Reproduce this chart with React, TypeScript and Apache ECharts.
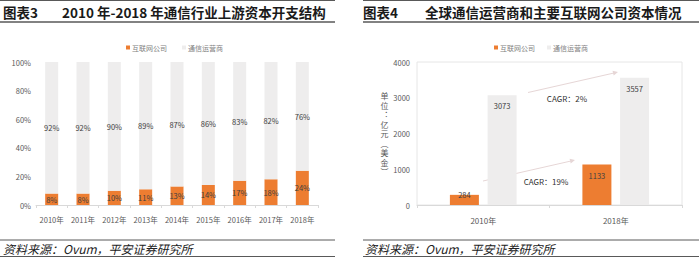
import React, { useEffect, useRef } from "react";
import * as echarts from "echarts";

const years = ["2010年", "2011年", "2012年", "2013年", "2014年", "2015年", "2016年", "2017年", "2018年"];
const internetShare = [8, 8, 10, 11, 13, 14, 17, 18, 24];
const operatorShare = [92, 92, 90, 89, 87, 86, 83, 82, 76];

const years2 = ["2010年", "2018年"];
const internetCapex = [284, 1133];
const operatorCapex = [3073, 3557];

const seriesNames = ["互联网公司", "通信运营商"];
const ORANGE = "#ED7D31";
const GRAY = "#EEEDED";
const FONT = "'Noto Sans CJK SC', 'Noto Sans', sans-serif";

export default function App() {
  const ref = useRef<HTMLDivElement>(null);
  useEffect(() => {
    if (!ref.current) return;
    const chart = echarts.init(ref.current, null, { renderer: "svg" });
    const lineColor = "#595959";
    const titleStyle = { fontSize: 13.5, fontWeight: "bold", fill: "#1a1a1a", fontFamily: FONT, verticalAlign: "middle" };
    const srcStyle = { fontSize: 12, fontStyle: "italic", fill: "#222", fontFamily: FONT, verticalAlign: "middle" };
    const arrowColor = "#e6d6d6";
    const axisLabel = { fontSize: 7.5, color: "#595959", fontFamily: FONT };
    const dataLabel = { show: true, position: "inside", fontSize: 7.5, color: "#404040", fontFamily: FONT };
    const option: any = {
      animation: false,
      textStyle: { fontFamily: FONT },
      legend: [
        {
          left: 121, top: 39, itemWidth: 4, itemHeight: 4, itemGap: 15, icon: "rect",
          data: seriesNames, textStyle: { fontSize: 7, color: "#7f7f7f", padding: [0, 0, 0, -3] },
        },
        {
          left: 489, top: 39, itemWidth: 4, itemHeight: 4, itemGap: 12, icon: "rect",
          data: seriesNames, textStyle: { fontSize: 7, color: "#7f7f7f", padding: [0, 0, 0, -3] },
        },
      ],
      grid: [
        { left: 36, right: 381, top: 62, bottom: 54 },
        { left: 417, right: 17, top: 62, bottom: 54, show: true, borderColor: "#e6e6e6", borderWidth: 1 },
      ],
      xAxis: [
        {
          type: "category", gridIndex: 0, data: years,
          axisLine: { lineStyle: { color: "#d9d9d9" } },
          axisTick: { show: true, length: 3, lineStyle: { color: "#d9d9d9" } },
          axisLabel: { ...axisLabel, margin: 11, interval: 0 },
        },
        {
          type: "category", gridIndex: 1, data: years2,
          axisLine: { lineStyle: { color: "#d9d9d9" } },
          axisTick: { show: true, length: 3, lineStyle: { color: "#d9d9d9" } },
          axisLabel: { ...axisLabel, fontSize: 8, margin: 11, interval: 0 },
        },
      ],
      yAxis: [
        {
          type: "value", gridIndex: 0, min: 0, max: 100, interval: 20,
          axisLine: { show: false }, axisTick: { show: false },
          splitLine: { show: false },
          axisLabel: { ...axisLabel, formatter: "{value}%", margin: 5 },
        },
        {
          type: "value", gridIndex: 1, min: 0, max: 4000, interval: 1000,
          axisLine: { show: false }, axisTick: { show: false },
          splitLine: { show: false },
          axisLabel: { ...axisLabel, margin: 7, formatter: (v: number) => String(v) },
          name: "单\n位\n︓\n亿\n元\n︵\n美\n金\n︶",
          nameLocation: "middle", nameRotate: 0, nameGap: 28,
          nameTextStyle: { fontSize: 8, lineHeight: 9.5, color: "#595959", align: "center", verticalAlign: "middle" },
        },
      ],
      series: [
        {
          name: seriesNames[0], type: "bar", stack: "s", xAxisIndex: 0, yAxisIndex: 0,
          data: internetShare, barWidth: 13, itemStyle: { color: ORANGE },
          label: { ...dataLabel, formatter: "{c}%" },
        },
        {
          name: seriesNames[1], type: "bar", stack: "s", xAxisIndex: 0, yAxisIndex: 0,
          data: operatorShare, barWidth: 13, itemStyle: { color: GRAY },
          label: { ...dataLabel, formatter: "{c}%" },
        },
        {
          name: seriesNames[0], type: "bar", xAxisIndex: 1, yAxisIndex: 1,
          data: internetCapex.map((v, i) => ({
            value: v,
            label: i === 0 ? { position: "insideTop", distance: 0, offset: [0, -4] } : {},
          })),
          barWidth: 29, barGap: "30%", itemStyle: { color: ORANGE },
          label: { ...dataLabel, position: "insideTop", distance: 7 },
        },
        {
          name: seriesNames[1], type: "bar", xAxisIndex: 1, yAxisIndex: 1,
          data: operatorCapex, barWidth: 29, barGap: "30%", itemStyle: { color: GRAY },
          label: { ...dataLabel, position: "insideTop", distance: 7 },
        },
      ],
      graphic: [
        { type: "line", shape: { x1: 0, y1: 0.5, x2: 335, y2: 0.5 }, style: { stroke: lineColor, lineWidth: 1 } },
        { type: "line", shape: { x1: 0, y1: 22, x2: 335, y2: 22 }, style: { stroke: lineColor, lineWidth: 1.5 } },
        { type: "line", shape: { x1: 0, y1: 240, x2: 335, y2: 240 }, style: { stroke: lineColor, lineWidth: 1 } },
        { type: "line", shape: { x1: 0, y1: 256.5, x2: 335, y2: 256.5 }, style: { stroke: lineColor, lineWidth: 1 } },
        { type: "line", shape: { x1: 363, y1: 0.5, x2: 699, y2: 0.5 }, style: { stroke: lineColor, lineWidth: 1 } },
        { type: "line", shape: { x1: 363, y1: 22, x2: 699, y2: 22 }, style: { stroke: lineColor, lineWidth: 1.5 } },
        { type: "line", shape: { x1: 363, y1: 240, x2: 699, y2: 240 }, style: { stroke: lineColor, lineWidth: 1 } },
        { type: "line", shape: { x1: 363, y1: 256.5, x2: 699, y2: 256.5 }, style: { stroke: lineColor, lineWidth: 1 } },
        { type: "text", x: 3, y: 12, style: { ...titleStyle, text: "图表3" } },
        { type: "text", x: 62, y: 12, style: { ...titleStyle, text: "2010 年-2018 年通信行业上游资本开支结构" } },
        { type: "text", x: 363, y: 12, style: { ...titleStyle, text: "图表4" } },
        { type: "text", x: 425, y: 12, style: { ...titleStyle, text: "全球通信运营商和主要互联网公司资本情况" } },
        { type: "text", x: 3, y: 248, style: { ...srcStyle, text: "资料来源：Ovum，平安证券研究所" } },
        { type: "text", x: 365, y: 248, style: { ...srcStyle, text: "资料来源：Ovum，平安证券研究所" } },
        { type: "line", shape: { x1: 528, y1: 92.5, x2: 614, y2: 73 }, style: { stroke: arrowColor, lineWidth: 1 } },
        { type: "polygon", shape: { points: [[618, 72], [613.7, 75.5], [612.5, 70.7]] }, style: { fill: arrowColor } },
        { type: "text", x: 567, y: 98, style: { text: "CAGR：2%", fontSize: 8, fill: "#333", fontFamily: FONT, align: "center", verticalAlign: "middle" } },
        { type: "line", shape: { x1: 483, y1: 181, x2: 571, y2: 161 }, style: { stroke: arrowColor, lineWidth: 1 } },
        { type: "polygon", shape: { points: [[575, 160], [570.7, 163.5], [569.6, 158.7]] }, style: { fill: arrowColor } },
        { type: "text", x: 546, y: 181, style: { text: "CAGR：19%", fontSize: 8, fill: "#333", fontFamily: FONT, align: "center", verticalAlign: "middle" } },
      ],
    };
    chart.setOption(option);
    return () => chart.dispose();
  }, []);
  return <div ref={ref} style={{ position: "fixed", left: 0, top: 0, width: 699, height: 259, background: "#fff" }} />;
}
